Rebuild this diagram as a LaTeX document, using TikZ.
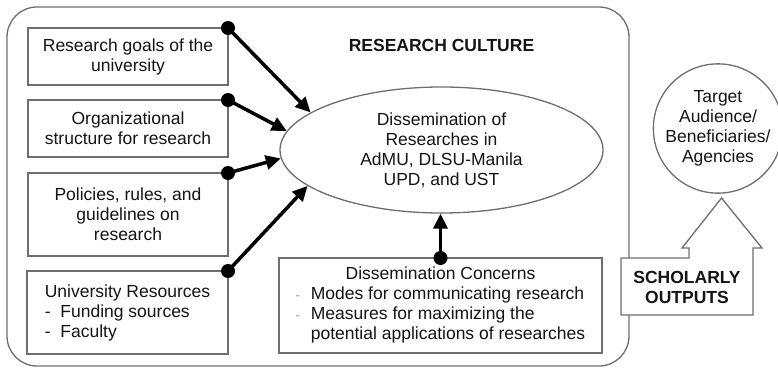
\documentclass[tikz,border=0pt]{standalone}
\usepackage{fontspec}
\setmainfont{Liberation Sans}
\usepackage{tikz}
\definecolor{rahmengrau}{RGB}{110,110,110}
\definecolor{textgrau}{RGB}{20,20,20}
\usetikzlibrary{arrows.meta, shapes.geometric}
\newcommand{\strich}{{\color{gray}\fontsize{12}{12}\selectfont -}}

\begin{document}
\begin{tikzpicture}[x=1pt, y=-1pt,
		box/.style={draw=rahmengrau, line width=1.3pt, fill=white, inner sep=0pt, outer sep=0pt, minimum width=200pt, align=center},
		fett/.style={font=\fontsize{17.5}{20}\selectfont\bfseries, align=center},
		pfeil/.style={line width=3.5pt, -{Triangle[length=15pt,width=14pt]}},
		font=\fontsize{17.5}{20}\selectfont, text=textgrau]
		\useasboundingbox (0,0) rectangle (778,369);
		%Rahmen
		\draw[rahmengrau, line width=1.3pt, rounded corners=30pt] (7,7) rectangle (629,366);
		\node[fett] (kultur) at (441.5,45) {RESEARCH CULTURE};
		%Kästen links
		\node[box, minimum height=57pt] (ziele) at (128,56.5) {Research goals of the\\university};
		\node[box, minimum height=57pt] (struktur) at (128,128.5) {Organizational\\structure for research};
		\node[box, minimum height=83pt] (regeln) at (128,214.5) {Policies, rules, and\\guidelines on\\research};
		\node[box, minimum height=83pt, minimum width=201pt, align=left] (ressourcen) at (127.5,312.5) {University Resources\\-~~Funding sources\\-~~Faculty};
		%Ellipse in der Mitte
		\node[ellipse, draw=rahmengrau, line width=1.3pt, minimum width=323pt, minimum height=126pt, inner sep=0pt, align=center] (verbreitung) at (441.5,150) {Dissemination of\\Researches in\\AdMU, DLSU-Manila\\UPD, and UST};
		\node[box, minimum width=323pt, minimum height=95pt] (anliegen) at (440.5,305.5) {\begin{tabular}{@{}l@{\hspace{11pt}}l@{}}
				\multicolumn{2}{c}{Dissemination Concerns}\\
				\strich & Modes for communicating research\\
				\strich & Measures for maximizing the\\
				& potential applications of researches
			\end{tabular}};
		%Pfeile mit Punkten
		\foreach \quelle/\winkel in {ziele/164.6, struktur/173.8, regeln/183.6, ressourcen/195.1} {
			\draw[pfeil] (\quelle.north east) -- (verbreitung.\winkel);
			\fill (\quelle.north east) circle (7pt);
		}
		\draw[pfeil] (anliegen.north) -- (anliegen.north |- verbreitung.south);
		\fill (anliegen.north) circle (7pt);
		%Rechts: Zielgruppe und Blockpfeil
		\node[circle, draw=rahmengrau, line width=1.3pt, minimum size=126pt, inner sep=0pt, align=center] (zielgruppe) at (718,128.5) {Target\\Audience/\\Beneficiaries/\\Agencies};
		\draw[rahmengrau, line width=1.3pt, fill=white] (621,315) -- (621,258) -- (689,258) -- (689,248) -- (682,248) -- (721.5,198) -- (762,248) -- (753,248) -- (753,315) -- cycle;
		\node[fett] (ausgaben) at (687,287) {SCHOLARLY\\OUTPUTS};
	\end{tikzpicture}
\end{document}
